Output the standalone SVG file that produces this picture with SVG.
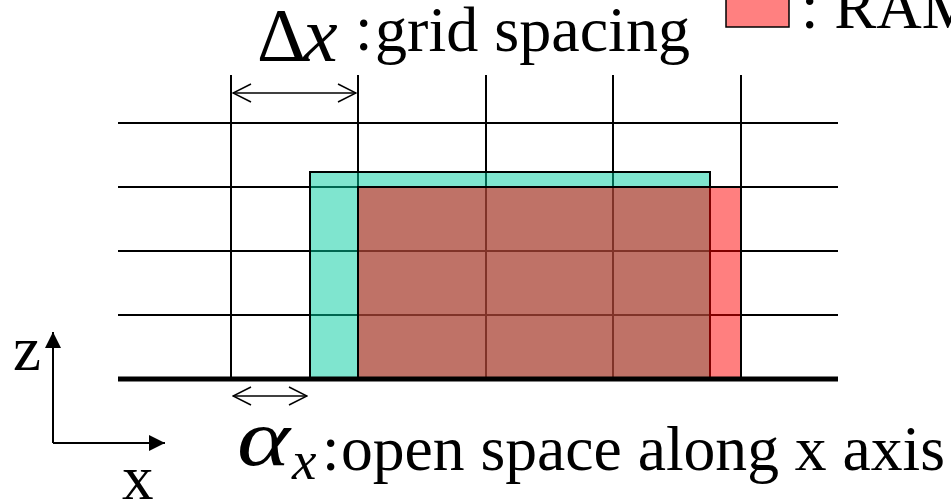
<svg xmlns="http://www.w3.org/2000/svg" width="951" height="501" viewBox="0 0 951 501">
<defs>
<style>
.t{font-family:"Liberation Serif","Times New Roman",serif;fill:#000}
.i{font-style:italic}
.g{stroke:#000;stroke-width:2;fill:none}
.dim{stroke:#000;stroke-width:1.5;fill:none}
</style>
<marker id="open" viewBox="0 0 20 20" refX="19" refY="10" markerWidth="20" markerHeight="20" markerUnits="userSpaceOnUse" orient="auto-start-reverse">
<path d="M1,1 L19,10 L1,19" fill="none" stroke="#000" stroke-width="1.5"/>
</marker>
<marker id="solid" viewBox="0 0 16 16" refX="16" refY="8" markerWidth="16" markerHeight="16" markerUnits="userSpaceOnUse" orient="auto">
<path d="M0,0 L16,8 L0,16 Z" fill="#000"/>
</marker>
</defs>
<rect width="951" height="501" fill="#fff"/>
<g id="grid" class="g">
<line x1="118" y1="123" x2="838" y2="123"/>
<line x1="118" y1="187" x2="838" y2="187"/>
<line x1="118" y1="251" x2="838" y2="251"/>
<line x1="118" y1="315" x2="838" y2="315"/>
<line x1="231" y1="75" x2="231" y2="379"/>
<line x1="358" y1="75" x2="358" y2="379"/>
<line x1="486" y1="75" x2="486" y2="379"/>
<line x1="613" y1="75" x2="613" y2="379"/>
<line x1="741" y1="75" x2="741" y2="379"/>
</g>
<g id="cyan-block">
<rect x="310" y="172" width="400" height="207" fill="#00CBA0" fill-opacity="0.5" stroke="#000" stroke-width="2"/>
</g>
<g id="red-block">
<rect x="358" y="187" width="383" height="192" fill="#FF0000" fill-opacity="0.5" stroke="#000" stroke-width="2"/>
</g>
<g id="ground">
<line x1="118" y1="379" x2="838" y2="379" stroke="#000" stroke-width="5"/>
</g>
<g id="connectors">
<line class="dim" x1="233" y1="93" x2="356" y2="93" marker-start="url(#open)" marker-end="url(#open)"/>
<line class="dim" x1="233" y1="396" x2="307" y2="396" marker-start="url(#open)" marker-end="url(#open)"/>
<line x1="53" y1="443" x2="53" y2="332" stroke="#000" stroke-width="2" marker-end="url(#solid)"/>
<line x1="53" y1="443" x2="165" y2="443" stroke="#000" stroke-width="2" marker-end="url(#solid)"/>
</g>
<g id="axis-labels">
<text class="t" x="13" y="370" font-size="63">z</text>
<text class="t" x="122" y="499" font-size="63">x</text>
</g>
<g id="grid-spacing-label">
<text class="t" x="257" y="61" font-size="76">Δ</text>
<text class="t i" x="303" y="61" font-size="78">x</text>
<text class="t" x="355" y="50" font-size="63">:</text>
<text class="t" x="375" y="51" font-size="63" textLength="315" lengthAdjust="spacingAndGlyphs">grid spacing</text>
</g>
<g id="legend">
<rect x="726" y="-5" width="63" height="32" fill="#FF8080" stroke="#000" stroke-width="1.5"/>
<text class="t" x="801" y="28" font-size="63">: RAM</text>
</g>
<g id="open-space-label">
<text class="t i" x="237" y="465" font-size="80" textLength="53" lengthAdjust="spacingAndGlyphs">α</text>
<text class="t i" x="292" y="479" font-size="55">x</text>
<text class="t" x="322" y="470" font-size="63">:</text>
<text class="t" x="341" y="470" font-size="64" textLength="604" lengthAdjust="spacingAndGlyphs">open space along x axis</text>
</g>
</svg>
